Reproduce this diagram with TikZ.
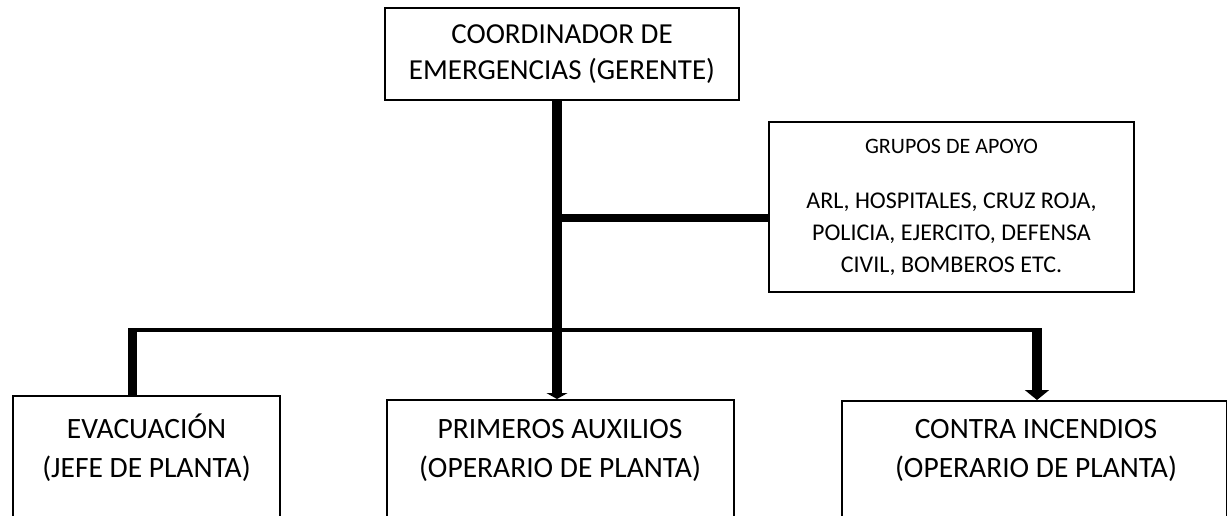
\documentclass[tikz,border=0pt]{standalone}
\usepackage{fontspec}
\setmainfont{Carlito}
\usetikzlibrary{arrows.meta,positioning}
\tikzset{>=Triangle, % arrow heads
caja/.style={draw, line width=2pt, rectangle, inner sep=0pt}, % every box
texto/.style={font=\fontsize{29}{36}\selectfont, align=center, inner sep=0pt}, % text of the top box
textobajo/.style={font=\fontsize{29.5}{39}\selectfont, align=center, inner sep=0pt, anchor=north}, % text of the bottom boxes
tronco/.style={line width=10pt, -{Triangle[width=21pt,length=6pt]}}, % main line
rama/.style={line width=8pt}, % line to the support groups
barra/.style={line width=4pt}, % bar over the bottom boxes
tallo/.style={line width=9pt}, % line down to the left box
flecha/.style={line width=10pt, -{Triangle[width=24pt,length=10pt]}}, % arrow to the right box
}
\begin{document}
\begin{tikzpicture}[x=1pt, y=-1pt]
\useasboundingbox (0,0) rectangle (1227,516);
\clip (0,0) rectangle (1227,516);
\node[caja, texto, minimum width=354pt, minimum height=92pt] (coord) at (562,54) {COORDINADOR DE\\EMERGENCIAS (GERENTE)};
\node[caja, align=center, font=\fontsize{24}{32}\selectfont, minimum width=365pt, minimum height=170pt] (apoyo) at (951.5,207) {{\fontsize{22}{24}\selectfont GRUPOS DE APOYO}\\[23pt]ARL, HOSPITALES, CRUZ ROJA,\\POLICIA, EJERCITO, DEFENSA\\CIVIL, BOMBEROS ETC.};
\node[caja, anchor=north west, minimum width=267pt, minimum height=160pt] (evac) at (12,395) {};
\node[caja, anchor=north west, minimum width=347pt, minimum height=160pt] (prim) at (386,399) {};
\node[caja, anchor=north west, minimum width=385pt, minimum height=160pt] (incendio) at (841,400) {};
\node[textobajo] (evactxt) at (evac.north |- 0,414) {\vphantom{Ó}EVACUACIÓN\\(JEFE DE PLANTA)};
\node[textobajo] (primtxt) at (560,414) {\vphantom{Ó}PRIMEROS AUXILIOS\\(OPERARIO DE PLANTA)};
\node[textobajo] (incendiotxt) at (1036,414) {\vphantom{Ó}CONTRA INCENDIOS\\(OPERARIO DE PLANTA)};
% connectors
\coordinate (eje) at (557,0);
\coordinate (ramal) at (557,218);
\coordinate (izq) at (132.5,330);
\coordinate (der) at (1037,330);
\draw[rama] (ramal) -- (ramal -| apoyo.west);
\draw[barra] ([xshift=-4.5pt]izq) -- ([xshift=5pt]der);
\draw[tallo] (izq) -- (izq |- evac.north);
\draw[tronco] (coord.south -| eje) -- (prim.north -| eje);
\draw[flecha] (der) -- (der |- incendio.north);
\end{tikzpicture}
\end{document}
